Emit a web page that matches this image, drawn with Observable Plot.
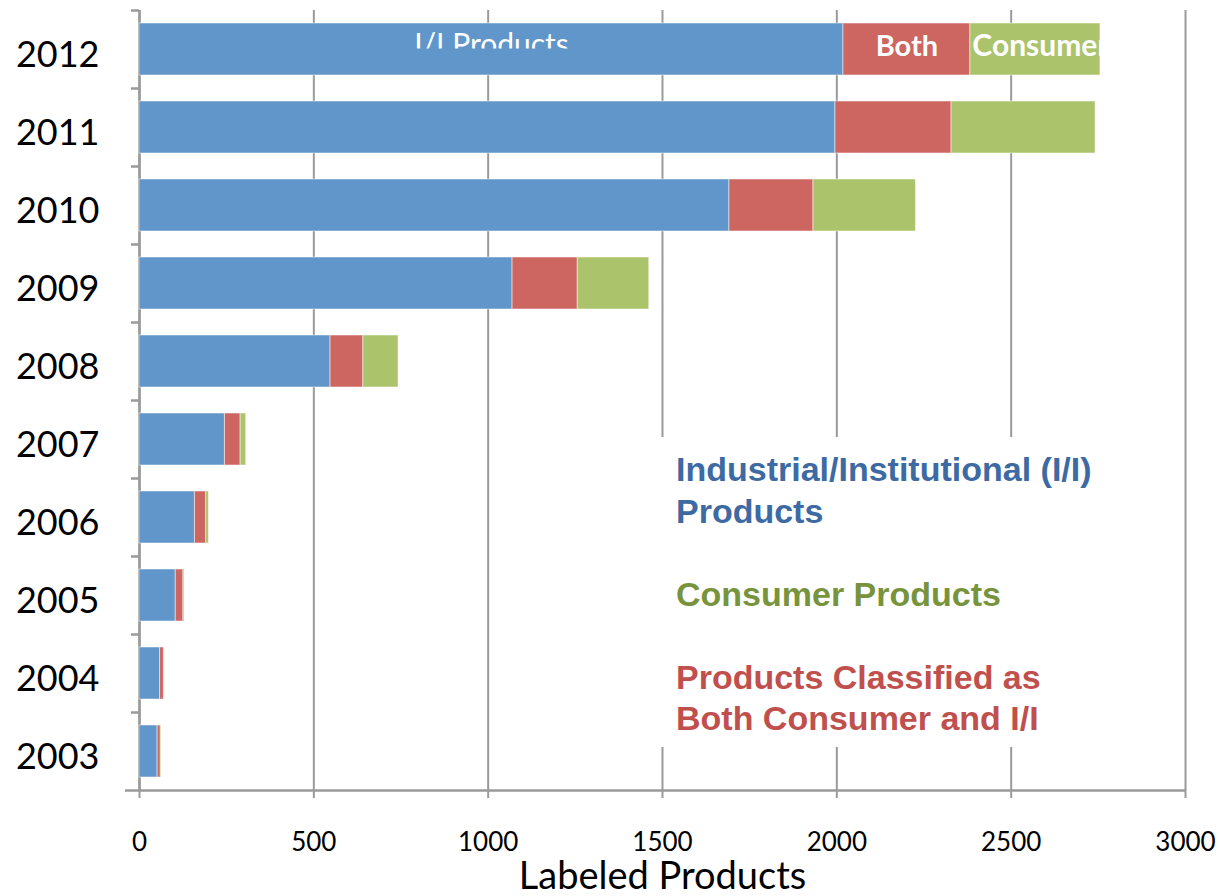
<!DOCTYPE html>
<html><head><meta charset="utf-8">
<script src="https://cdn.jsdelivr.net/npm/d3@7"></script>
<script src="https://cdn.jsdelivr.net/npm/@observablehq/plot@0.6"></script>
<style>
body{margin:0;background:#fff;}
#wrap{position:relative;width:1220px;height:896px;overflow:hidden;}
#legend{position:absolute;left:657px;top:437px;width:524px;height:310px;background:#fff;
  font-family:"Liberation Sans",Arial,sans-serif;font-weight:bold;font-size:34px;line-height:41.5px;
  box-sizing:border-box;padding-top:12px;padding-left:19px;white-space:nowrap;}
</style></head><body><div id="wrap"></div>
<script>
const years = ["2012","2011","2010","2009","2008","2007","2006","2005","2004","2003"];
const iiProducts = [2019,1996,1692,1070,548,245,159,104,59,52];
const bothProducts = [364,333,241,187,94,45,32,22,11,9];
const consumerProducts = [373,413,294,205,101,16,8,3,2,2];
const categories = ["I/I Products","Both","Consumer"];
const barColors = ["#6096C9","#CD6660","#ABC46C"];
const xTicks = [0,500,1000,1500,2000,2500,3000];
const xTitle = "Labeled Products";
const legendItems = [
  {lines:["Industrial/Institutional (I/I)","Products"], color:"#3D6AA3"},
  {lines:["Consumer Products"], color:"#77933C"},
  {lines:["Products Classified as","Both Consumer and I/I"], color:"#C0504D"}
];

const rows = [];
years.forEach((y,i)=>{
  rows.push({year:y, category:categories[0], value:iiProducts[i]});
  rows.push({year:y, category:categories[1], value:bothProducts[i]});
  rows.push({year:y, category:categories[2], value:consumerProducts[i]});
});
const topRows = rows.filter(d=>d.year===years[0]);
const stackOpts = {y:"year", x:"value", z:"category", order:categories};
const gray = "#9A9A9A";
const calibri = "Lato, 'Open Sans', sans-serif";

const chart = Plot.plot({
  width:1220, height:896,
  marginLeft:139, marginRight:35, marginTop:10, marginBottom:106,
  style:{background:"#fff", fontFamily:calibri},
  x:{domain:[0,3000]},
  y:{domain:years, paddingInner:0.33, paddingOuter:0.165},
  color:{domain:categories, range:barColors},
  marks:[
    Plot.gridX(xTicks,{stroke:gray, strokeOpacity:1, strokeWidth:2}),
    Plot.ruleX([0],{stroke:gray, strokeWidth:2.5}),
    Plot.ruleY(years,{y:d=>d, x1:0, x2:0, insetLeft:-8, dy:-39, stroke:gray, strokeWidth:2.5}),
    Plot.ruleY([years[years.length-1]],{y:d=>d, insetLeft:-14, dy:39, stroke:gray, strokeWidth:2.5}),
    Plot.barX(rows, Plot.stackX({...stackOpts, fill:"category", stroke:"#fff", strokeOpacity:0.5, strokeWidth:1})),
    Plot.axisX({ticks:xTicks, tickSize:8, tickPadding:34, fontSize:26, stroke:gray, strokeWidth:2, label:null, tickFormat:d=>String(d), fill:"#000"}),
    Plot.axisY({tickSize:0, tickPadding:40, fontSize:36, label:null, fill:"#000", dy:6}),
    Plot.text([xTitle],{frameAnchor:"bottom", dy:86, fontSize:38, fill:"#000", lineAnchor:"middle"}),
    Plot.text(topRows, Plot.stackX({...stackOpts, text:d=>d.category===categories[0]?"I/I Products":"", fill:"#fff", fontSize:30, dy:-4})),
    Plot.text(topRows, Plot.stackX({...stackOpts, text:d=>d.category===categories[1]?"Both":"", fill:"#fff", fontSize:29, fontWeight:"bold", dy:-3})),
    Plot.text(topRows, Plot.stackX1({...stackOpts, text:d=>d.category===categories[2]?"Consumer":"", fill:"#fff", fontSize:30, fontWeight:"bold", textAnchor:"start", dx:2, dy:-3}))
  ]
});
document.getElementById("wrap").appendChild(chart);

// clip in-bar labels to their bar segments (use the drawn bar rects)
const svg = d3.select(chart);
const rects = svg.selectAll("rect").nodes()
  .map(n=>({x:+n.getAttribute("x"), y:+n.getAttribute("y"), w:+n.getAttribute("width"), h:+n.getAttribute("height")}))
  .filter(r=>isFinite(r.x) && isFinite(r.y) && r.w>0 && r.h>0 && r.h<200);
const minY = d3.min(rects, r=>r.y);
const topBars = rects.filter(r=>Math.abs(r.y-minY)<0.5).sort((a,b)=>a.x-b.x);
const defs = svg.insert("defs", ":first-child");
function parentShift(node){
  const m = (node.parentNode.getAttribute("transform")||"").match(/translate\(\s*([-\d.e]+)[\s,]+([-\d.e]+)\s*\)/);
  return m ? [+m[1], +m[2]] : [0,0];
}
function wrapClip(textNode, id, box){
  const [tx, ty] = parentShift(textNode);
  defs.append("clipPath").attr("id", id).append("rect")
    .attr("x", box.x - tx).attr("y", box.y - ty).attr("width", box.w).attr("height", box.h);
  const g = document.createElementNS("http://www.w3.org/2000/svg","g");
  g.setAttribute("clip-path", `url(#${id})`);
  textNode.parentNode.insertBefore(g, textNode);
  g.appendChild(textNode);
}
if (topBars.length >= 3) {
  const bII = topBars[0], bC = topBars[topBars.length-1];
  svg.selectAll("text").nodes().forEach(n=>{
    const t = n.textContent;
    if (t === "I/I Products") wrapClip(n, "clipII", {x:bII.x, y:bII.y, w:bII.w, h:bII.h*0.49});
    if (t === "Consumer") wrapClip(n, "clipCons", bC);
  });
}

// legend text box
const lg = document.createElement("div");
lg.id = "legend";
lg.innerHTML = legendItems.map(it=>it.lines.map(l=>`<div style="color:${it.color}">${l}</div>`).join("")).join("<div>&nbsp;</div>");
document.getElementById("wrap").appendChild(lg);
</script></body></html>
